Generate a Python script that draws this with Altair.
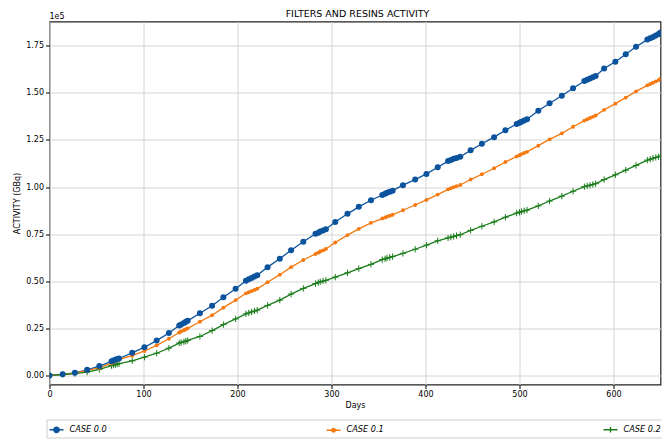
import altair as alt
import pandas as pd

# Day grid (clusters of points every ~72 days)
days = [0, 14, 27, 40, 53,
        66, 68, 70, 72, 74,
        88, 101, 114, 127,
        138, 140, 143, 145, 147,
        160, 173, 185, 198,
        209, 212, 215, 218, 221,
        232, 245, 257, 270,
        283, 286, 288, 291, 294,
        304, 317, 329, 342,
        354, 357, 359, 362, 365,
        376, 389, 401, 413,
        424, 427, 430, 433, 437,
        448, 460, 473, 485,
        497, 500, 502, 505, 508,
        520, 532, 545, 557,
        569, 572, 575, 578, 581,
        590, 602, 613, 624,
        636, 639, 642, 645, 648, 650]

# Activity in units of 1e5 GBq
case_00 = [0.0, 0.006, 0.014, 0.03, 0.05,
           0.075, 0.079, 0.083, 0.087, 0.09,
           0.12, 0.15, 0.185, 0.225,
           0.265, 0.27, 0.278, 0.285, 0.29,
           0.33, 0.37, 0.415, 0.46,
           0.503, 0.511, 0.518, 0.525, 0.532,
           0.575, 0.62, 0.665, 0.71,
           0.752, 0.758, 0.764, 0.77, 0.776,
           0.815, 0.858, 0.895, 0.93,
           0.958, 0.964, 0.97, 0.975, 0.981,
           1.01, 1.04, 1.07, 1.105,
           1.138, 1.144, 1.15, 1.155, 1.161,
           1.195, 1.23, 1.265, 1.302,
           1.335, 1.341, 1.347, 1.353, 1.36,
           1.405, 1.445, 1.485, 1.525,
           1.563, 1.57, 1.577, 1.583, 1.59,
           1.63, 1.665, 1.705, 1.745,
           1.783, 1.79, 1.797, 1.805, 1.812, 1.82]

case_01 = [0.0, 0.006, 0.012, 0.027, 0.04,
           0.065, 0.07, 0.075, 0.08, 0.085,
           0.105, 0.13, 0.16, 0.195,
           0.228, 0.234, 0.24, 0.245, 0.25,
           0.285, 0.32, 0.36, 0.40,
           0.436, 0.442, 0.448, 0.454, 0.46,
           0.495, 0.535, 0.575, 0.613,
           0.645, 0.652, 0.658, 0.664, 0.671,
           0.706, 0.745, 0.778, 0.81,
           0.833, 0.838, 0.843, 0.848, 0.853,
           0.877, 0.905, 0.932, 0.96,
           0.988, 0.994, 1.0, 1.005, 1.011,
           1.04, 1.068, 1.10, 1.133,
           1.163, 1.169, 1.175, 1.181, 1.187,
           1.22, 1.253, 1.285, 1.32,
           1.353, 1.36, 1.367, 1.373, 1.38,
           1.41, 1.443, 1.475, 1.508,
           1.54, 1.547, 1.554, 1.561, 1.568, 1.575]

case_02 = [0.0, 0.005, 0.01, 0.018, 0.032,
           0.052, 0.055, 0.057, 0.06, 0.063,
           0.078, 0.097, 0.118, 0.145,
           0.172, 0.175, 0.179, 0.182, 0.186,
           0.207, 0.238, 0.27, 0.30,
           0.327, 0.332, 0.337, 0.342, 0.347,
           0.372, 0.40, 0.432, 0.462,
           0.488, 0.493, 0.497, 0.501, 0.505,
           0.522, 0.545, 0.567, 0.59,
           0.615, 0.619, 0.623, 0.627, 0.631,
           0.648, 0.67, 0.692, 0.715,
           0.73, 0.734, 0.738, 0.742, 0.747,
           0.77, 0.792, 0.815, 0.84,
           0.862, 0.866, 0.87, 0.874, 0.878,
           0.90, 0.926, 0.952, 0.978,
           1.002, 1.006, 1.01, 1.014, 1.018,
           1.04, 1.065, 1.09, 1.115,
           1.143, 1.148, 1.153, 1.157, 1.161, 1.165]

series_names = ["CASE 0.0", "CASE 0.1", "CASE 0.2"]
colors = ["#0b539d", "#f5790f", "#1c7d1c"]
x_ticks = [0, 100, 200, 300, 400, 500, 600]
y_ticks = [0.0, 0.25, 0.5, 0.75, 1.0, 1.25, 1.5, 1.75]
title_text = "FILTERS AND RESINS ACTIVITY"
offset_text = "1e5"

rows = []
for name, vals in zip(series_names, [case_00, case_01, case_02]):
    for d, v in zip(days, vals):
        rows.append({"day": d, "activity": v, "series": name})
df = pd.DataFrame(rows)

FONT = "DejaVu Sans"
color_scale = alt.Scale(domain=series_names, range=colors)
legend_paths = [
    "M-1,0L1,0M-0.38,0A0.38,0.38 0 1,1 0.38,0A0.38,0.38 0 1,1 -0.38,0Z",
    "M-1,0L1,0M-0.25,0A0.25,0.25 0 1,1 0.25,0A0.25,0.25 0 1,1 -0.25,0Z",
    "M-1,0L1,0M0,-0.4L0,0.4",
]
shape_scale = alt.Scale(domain=series_names, range=legend_paths)

x_enc = alt.X("day:Q",
              scale=alt.Scale(domain=[0, 650], nice=False, zero=False),
              axis=alt.Axis(values=x_ticks, title="Days", format="d",
                            labelFlush=False, titlePadding=3))
y_enc = alt.Y("activity:Q",
              scale=alt.Scale(domain=[-0.048, 1.879], nice=False, zero=False),
              axis=alt.Axis(values=y_ticks, format=".2f", title="ACTIVITY (GBq)",
                            titlePadding=4))

legend = alt.Legend(
    title=None, orient="none", legendX=-3, legendY=398,
    direction="horizontal", columns=3, columnPadding=216,
    labelFont=FONT, labelFontSize=8.2, labelFontStyle="italic", labelColor="black",
    labelOffset=5, symbolSize=196, padding=2, symbolOpacity=1,
    symbolStrokeWidth=1.4,
    fillColor="white", strokeColor="#cfcfcf",
)

base = alt.Chart(df)

layers = []
for name, col in zip(series_names, colors):
    layers.append(base.transform_filter(alt.datum.series == name).mark_line(
        strokeWidth=1.3, clip=True, color=col).encode(x=x_enc, y=y_enc))

pts_green = base.transform_filter(alt.datum.series == "CASE 0.2").mark_point(
    filled=False, shape="M-1,0L1,0M0,-1L0,1", size=40, strokeWidth=1, opacity=1,
    clip=True, color=colors[2]
).encode(x=x_enc, y=y_enc)

pts_orange = base.transform_filter(alt.datum.series == "CASE 0.1").mark_point(
    filled=True, shape="circle", size=15, opacity=1, clip=True, color=colors[1]
).encode(x=x_enc, y=y_enc)

pts_blue = base.transform_filter(alt.datum.series == "CASE 0.0").mark_point(
    filled=True, shape="circle", size=36, opacity=1, clip=True, color=colors[0]
).encode(x=x_enc, y=y_enc)

# invisible layer that only carries the legend
legend_layer = base.mark_point(opacity=0, clip=True).encode(
    x=x_enc, y=y_enc,
    fill=alt.Fill("series:N", scale=color_scale, legend=legend),
    stroke=alt.Stroke("series:N", scale=color_scale, legend=legend),
    shape=alt.Shape("series:N", scale=shape_scale, legend=legend),
)

offset_label = alt.Chart(pd.DataFrame({"t": [offset_text]})).mark_text(
    font=FONT, fontSize=8, align="left", baseline="bottom", color="black"
).encode(x=alt.value(0), y=alt.value(-1), text="t:N")

title_label = alt.Chart(pd.DataFrame({"t": [title_text]})).mark_text(
    font=FONT, fontSize=9.5, align="center", baseline="middle", color="black"
).encode(x=alt.value(308), y=alt.value(-8), text="t:N")

chart = alt.layer(*layers, pts_green, pts_orange, pts_blue, legend_layer,
                  offset_label, title_label).properties(
    width=611, height=363,
    autosize=alt.AutoSizeParams(type="none"),
    padding={"left": 41.5, "top": 13.5, "right": 1.5, "bottom": 55},
).configure_view(
    stroke="#222", strokeWidth=1.2
).configure_axis(
    labelFont=FONT, titleFont=FONT, labelFontSize=8, titleFontSize=8,
    titleFontWeight="normal", labelColor="black", titleColor="black",
    tickColor="black", tickSize=4, labelPadding=2, domain=False,
    gridColor="#d4d4d4", gridWidth=1,
)

chart.save("out.html", embed_options={"renderer": "svg", "actions": False})
